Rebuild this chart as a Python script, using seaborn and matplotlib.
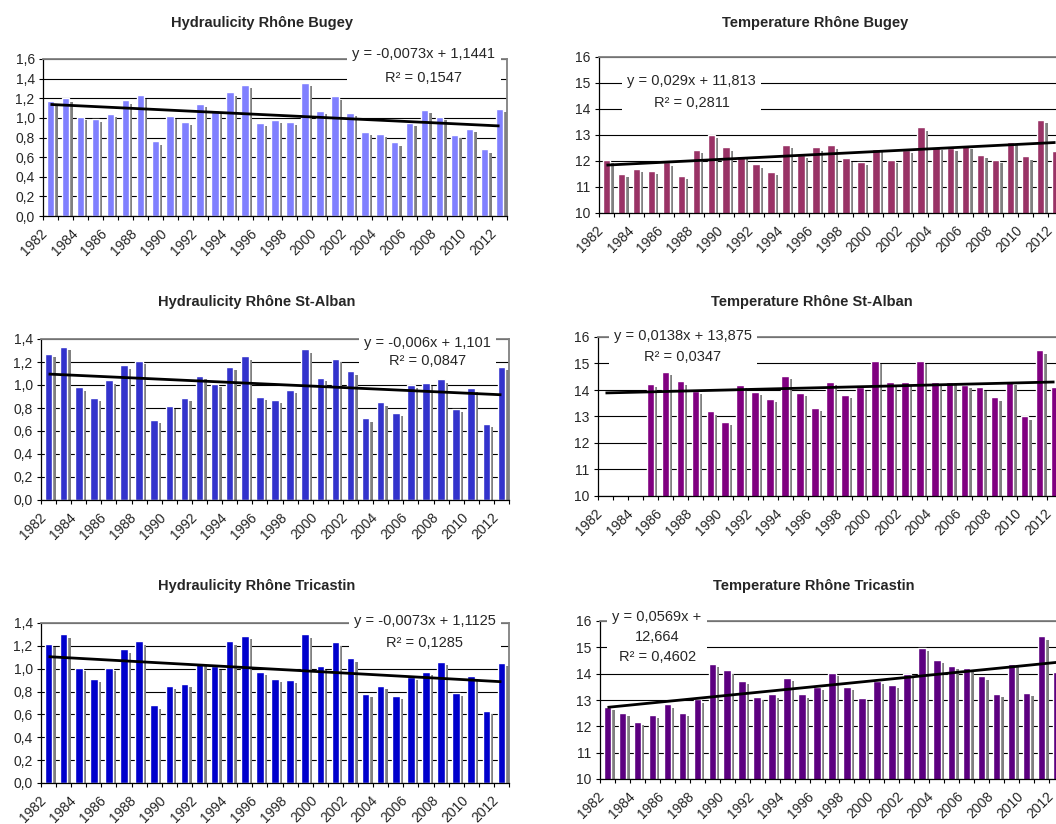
import numpy as np
import pandas as pd
import matplotlib
matplotlib.use('Agg')
import matplotlib.pyplot as plt
import matplotlib.patheffects as pe
import matplotlib.transforms as mtransforms
from matplotlib.ticker import FuncFormatter
import seaborn as sns

sns.set_theme(style='white')
plt.rcParams['font.family'] = ['Liberation Sans', 'DejaVu Sans']

# ========== data ==========
years = list(range(1982, 2013))

bugey_hydro = [1.17, 1.20, 1.01, 0.99, 1.04, 1.18, 1.23, 0.76, 1.02, 0.96,
               1.14, 1.08, 1.26, 1.34, 0.95, 0.98, 0.96, 1.36, 1.07, 1.22,
               1.05, 0.86, 0.84, 0.75, 0.95, 1.08, 1.01, 0.83, 0.89, 0.68, 1.09]
stalban_hydro = [1.27, 1.33, 0.98, 0.89, 1.04, 1.17, 1.21, 0.70, 0.82, 0.89,
                 1.08, 1.01, 1.16, 1.25, 0.90, 0.87, 0.96, 1.31, 1.06, 1.23,
                 1.12, 0.71, 0.85, 0.76, 1.00, 1.02, 1.05, 0.79, 0.97, 0.66, 1.16]
tricastin_hydro = [1.22, 1.30, 1.01, 0.91, 1.01, 1.17, 1.24, 0.68, 0.85, 0.87,
                   1.05, 1.02, 1.24, 1.29, 0.97, 0.91, 0.90, 1.30, 1.02, 1.23,
                   1.09, 0.78, 0.85, 0.76, 0.93, 0.97, 1.06, 0.79, 0.94, 0.63, 1.05]

bugey_temp = [12.05, 11.50, 11.70, 11.62, 11.95, 11.43, 12.42, 13.00, 12.52, 12.20,
              11.87, 11.58, 12.63, 12.25, 12.53, 12.60, 12.10, 11.96, 12.46, 12.04,
              12.42, 13.30, 12.55, 12.50, 12.60, 12.25, 12.04, 12.75, 12.18, 13.58, 12.40]
stalban_temp = [np.nan, np.nan, np.nan, 14.23, 14.68, 14.33, 13.98, 13.20, 12.80, 14.20,
                13.92, 13.67, 14.53, 13.90, 13.32, 14.32, 13.82, 14.10, 15.10, 14.32,
                14.32, 15.10, 14.32, 14.32, 14.20, 14.10, 13.72, 14.32, 13.00, 15.50, 14.10]
tricastin_temp = [12.75, 12.50, 12.17, 12.43, 12.83, 12.52, 13.02, 14.37, 14.13, 13.73,
                  13.13, 13.22, 13.83, 13.22, 13.50, 14.02, 13.50, 13.08, 13.72, 13.58,
                  14.00, 14.97, 14.52, 14.30, 14.20, 13.90, 13.23, 14.37, 13.27, 15.42, 14.07]

# trend lines (Excel labels, x = 1..n)
slopes = [-0.0073, 0.029, -0.006, 0.0138, -0.0073, 0.0569]
intercepts = [1.1441, 11.813, 1.101, 13.875, 1.1125, 12.664]
r2_values = ['0,1547', '0,2811', '0,0847', '0,0347', '0,1285', '0,4602']
eq_labels = ['y = -0,0073x + 1,1441', 'y = 0,029x + 11,813',
             'y = -0,006x + 1,101', 'y = 0,0138x + 13,875',
             'y = -0,0073x + 1,1125', 'y = 0,0569x +\n12,664']

titles = ['Hydraulicity Rhône Bugey', 'Temperature Rhône Bugey',
          'Hydraulicity Rhône St-Alban', 'Temperature Rhône St-Alban',
          'Hydraulicity Rhône Tricastin', 'Temperature Rhône Tricastin']
series = [bugey_hydro, bugey_temp, stalban_hydro, stalban_temp, tricastin_hydro, tricastin_temp]
colors = ['#8080ff', '#993366', '#3333cc', '#800080', '#0000cc', '#5c0080']

# ========== layout (pixels of the 1056x824 figure) ==========
W, H = 1056, 824
axes_px = [(43, 59, 507, 216), (599, 57, 1063, 213),
           (41, 339, 509, 500), (598, 337, 1062, 496),
           (41, 623, 509, 783), (600, 621, 1064, 779)]
title_px = [(262, 23), (815, 23), (257, 302), (812, 302), (257, 586), (814, 586)]
# label centre in axes fraction and line spacing
label_pos = [(0.821, 0.955, 1.87), (0.200, 0.776, 1.65),
             (0.825, 0.919, 1.30), (0.183, 0.940, 1.60),
             (0.820, 0.944, 1.70), (0.123, 0.896, 1.55)]

hydro_fmt = FuncFormatter(lambda v, p: f'{v:.1f}'.replace('.', ','))
temp_fmt = FuncFormatter(lambda v, p: f'{v:.0f}')

fig = plt.figure(figsize=(W / 100, H / 100), dpi=100)
xlabels = [str(y) for y in years]
idx = np.arange(len(years))
# year labels sit a little left of their bar, like Excel
label_shift = mtransforms.ScaledTranslation(-5 / 100, 0, fig.dpi_scale_trans)

for i in range(6):
    l, t, r, b = axes_px[i]
    ax = fig.add_axes([l / W, 1 - b / H, (r - l) / W, (b - t) / H])
    df = pd.DataFrame({'year': xlabels, 'value': series[i]})
    sns.barplot(data=df, x='year', y='value', order=xlabels, color=colors[i],
                saturation=1, width=0.5, errorbar=None, ax=ax, zorder=2)
    # grey drop shadow like the Excel bars
    for p in ax.patches:
        p.set_path_effects([pe.SimplePatchShadow(offset=(2.4, -2.4), shadow_rgbFace='#808080', alpha=1.0),
                            pe.Normal()])

    trend = slopes[i] * (idx + 1) + intercepts[i]
    ax.plot(idx, trend, color='black', lw=2.0, zorder=4, solid_capstyle='butt')

    is_temp = (i % 2 == 1)
    if is_temp:
        ax.set_ylim(10, 16)
        ax.set_yticks(np.arange(10, 17, 1))
        ax.yaxis.set_major_formatter(temp_fmt)
    else:
        top = 1.6 if i == 0 else 1.4
        ax.set_ylim(0, top)
        ax.set_yticks(np.arange(0, top + 0.01, 0.2))
        ax.yaxis.set_major_formatter(hydro_fmt)
    ax.set_xlim(-0.5, len(years) - 0.5)

    ax.yaxis.grid(True, color='black', lw=0.8)
    ax.set_axisbelow(True)
    for s in ['left', 'bottom']:
        ax.spines[s].set_color('black')
        ax.spines[s].set_linewidth(0.9)
    for s in ['top', 'right']:
        ax.spines[s].set_color('#808080')
        ax.spines[s].set_linewidth(1.3)

    ax.set_xticks(idx[::2])
    ax.set_xticklabels(xlabels[::2], rotation=45, ha='right', va='center',
                       rotation_mode='anchor')
    ax.set_xticks(np.arange(-0.5, len(years), 1), minor=True)
    ax.tick_params(axis='x', which='major', length=0, pad=11, labelsize=10, bottom=True)
    ax.tick_params(axis='x', which='minor', length=3, width=0.8, direction='out',
                   color='black', bottom=True)
    ax.tick_params(axis='y', length=3, width=0.8, direction='out', color='black',
                   pad=3, labelsize=10, left=True)
    # shift applied after tick_params, otherwise it gets reset
    for lab in ax.get_xticklabels():
        lab.set_transform(lab.get_transform() + label_shift)
    ax.set_xlabel('')
    ax.set_ylabel('')

    lx, ly, ls = label_pos[i]
    ax.text(lx, ly, eq_labels[i] + '\nR² = ' + r2_values[i], transform=ax.transAxes,
            ha='center', va='center', ma='center', fontsize=10.5, linespacing=ls,
            bbox=dict(boxstyle='square,pad=0.35', fc='white', ec='none'),
            zorder=6, clip_on=False)

    tx, ty = title_px[i]
    fig.text(tx / W, 1 - ty / H, titles[i], ha='center', va='center',
             fontsize=10.5, fontweight='bold')

fig.savefig('out.png', dpi=100)
